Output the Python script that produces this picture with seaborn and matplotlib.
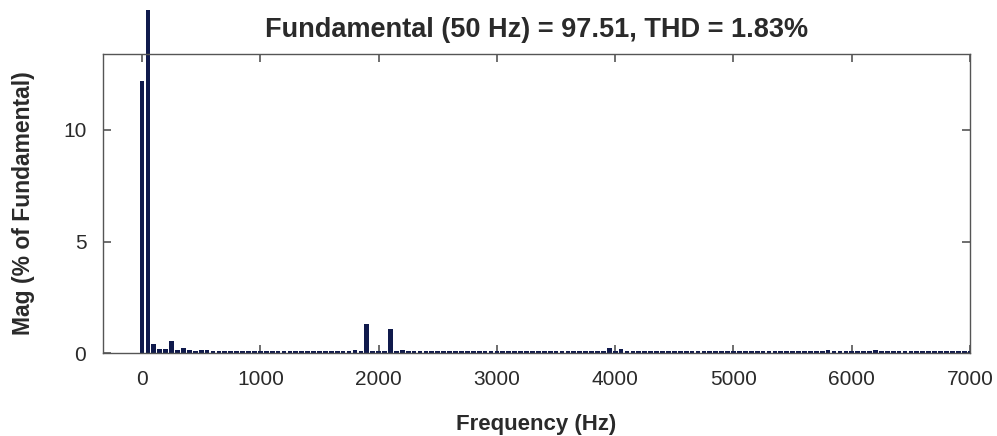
import numpy as np
import pandas as pd
import seaborn as sns
import matplotlib.pyplot as plt
from matplotlib.transforms import Bbox, TransformedBbox

# harmonic spectrum, 50 Hz steps from DC to 7 kHz
freq_hz = list(range(0, 7050, 50))
mag_pct = [
    12.2, 100.0, 0.40, 0.18, 0.18, 0.55, 0.15, 0.22, 0.15, 0.10,   # 0 - 450
    0.12, 0.15, 0.10, 0.10, 0.10, 0.10, 0.10, 0.10, 0.10, 0.10,    # 500 - 950
    0.10, 0.10, 0.10, 0.10, 0.10, 0.10, 0.10, 0.10, 0.10, 0.10,    # 1000 - 1450
    0.10, 0.10, 0.10, 0.10, 0.10, 0.10, 0.16, 0.10, 1.30, 0.10,    # 1500 - 1950
    0.10, 0.10, 1.07, 0.10, 0.16, 0.10, 0.10, 0.10, 0.10, 0.10,    # 2000 - 2450
    0.10, 0.10, 0.10, 0.10, 0.10, 0.10, 0.10, 0.10, 0.10, 0.10,    # 2500 - 2950
    0.10, 0.10, 0.10, 0.10, 0.10, 0.10, 0.10, 0.10, 0.10, 0.10,    # 3000 - 3450
    0.10, 0.10, 0.10, 0.10, 0.10, 0.10, 0.10, 0.10, 0.10, 0.22,    # 3500 - 3950
    0.10, 0.18, 0.10, 0.10, 0.10, 0.10, 0.10, 0.10, 0.10, 0.10,    # 4000 - 4450
    0.10, 0.10, 0.10, 0.10, 0.10, 0.10, 0.10, 0.10, 0.10, 0.10,    # 4500 - 4950
    0.10, 0.10, 0.10, 0.10, 0.10, 0.10, 0.10, 0.10, 0.10, 0.10,    # 5000 - 5450
    0.10, 0.10, 0.10, 0.10, 0.10, 0.10, 0.15, 0.10, 0.10, 0.10,    # 5500 - 5950
    0.10, 0.10, 0.10, 0.10, 0.16, 0.10, 0.10, 0.10, 0.10, 0.10,    # 6000 - 6450
    0.10, 0.10, 0.10, 0.10, 0.10, 0.10, 0.10, 0.10, 0.10, 0.10,    # 6500 - 6950
    0.10,                                                          # 7000
]
x_ticks = [0, 1000, 2000, 3000, 4000, 5000, 6000, 7000]
y_ticks = [0, 5, 10]

TITLE = "Fundamental (50 Hz) = 97.51, THD = 1.83%"
BAR_COLOR = "#101a4c"
TEXT_COLOR = "#2a2a2a"

df = pd.DataFrame({"freq": freq_hz, "mag": mag_pct})

sns.set_style("ticks")
plt.rcParams["font.family"] = ["Liberation Sans", "DejaVu Sans"]

fig = plt.figure(figsize=(9.97, 4.36), dpi=100)
ax = fig.add_axes([0.1033, 0.190, 0.8697, 0.686])

sns.barplot(data=df, x="freq", y="mag", native_scale=True, width=0.8,
            color=BAR_COLOR, saturation=1, linewidth=0, ax=ax)

# the fundamental runs past the top of the box, as in the original
clip = TransformedBbox(Bbox([[0, 0.19], [1, 0.977]]), fig.transFigure)
for p in ax.patches:
    if p.get_height() > 50:
        p.set_clip_box(clip)

ax.set_xlim(-330, 7000)
ax.set_ylim(0, 13.4)
ax.set_xticks(x_ticks)
ax.set_xticklabels([str(t) for t in x_ticks])
ax.set_yticks(y_ticks)
ax.set_yticklabels([str(t) for t in y_ticks])

for s in ax.spines.values():
    s.set_visible(True)
    s.set_color("#555555")
    s.set_linewidth(1.0)

ax.tick_params(direction="in", length=6, width=1.2, color="#555555",
               top=True, right=True, labelsize=15, labelcolor=TEXT_COLOR)
ax.tick_params(axis="x", pad=12)
ax.tick_params(axis="y", pad=12)

ax.set_title(TITLE, fontsize=19.5, fontweight="bold", color=TEXT_COLOR, pad=12)
ax.set_xlabel("Frequency (Hz)", fontsize=16, fontweight="bold",
              color=TEXT_COLOR, labelpad=18)
ax.set_ylabel("Mag (% of Fundamental)", fontsize=16.5, fontweight="bold",
              color=TEXT_COLOR, labelpad=20)

fig.savefig("out.png", dpi=100)
